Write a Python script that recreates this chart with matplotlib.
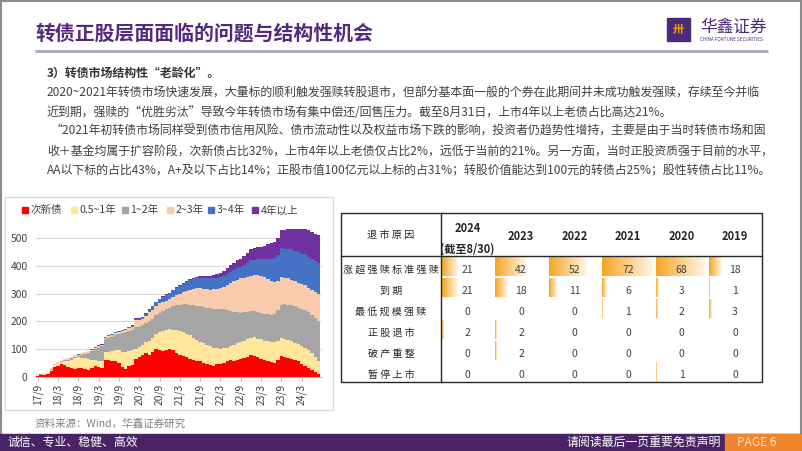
import matplotlib
matplotlib.use('Agg')
import matplotlib.pyplot as plt
from matplotlib.patches import Rectangle
import matplotlib.colors as mcolors
import numpy as np

plt.rcParams['font.family'] = ['Noto Sans CJK SC', 'DejaVu Sans']

# 左图：各上市年限转债只数（月度，17/9 ~ 24/8）
tick_labels = ['17/9', '18/3', '18/9', '19/3', '19/9', '20/3', '20/9',
               '21/3', '21/9', '22/3', '22/9', '23/3', '23/9', '24/3']
series_names = ['次新债', '0.5~1年', '1~2年', '2~3年', '3~4年', '4年以上']
series_colors = ['#FF0000', '#FFE699', '#A5A5A5', '#F8CBAD', '#4472C4', '#7030A0']

new_bonds = [3, 5, 7, 10, 20, 35, 40, 45, 42, 35, 30, 28, 32, 30, 28, 26, 30, 38,
             35, 30, 62, 60, 58, 55, 50, 35, 28, 38, 42, 65, 70, 78, 85, 80, 88, 100,
             98, 92, 95, 100, 98, 85, 80, 75, 70, 65, 60, 58, 55, 50, 45, 42, 40, 45,
             45, 50, 55, 60, 58, 62, 65, 68, 72, 80, 75, 70, 65, 60, 55, 52, 50, 60,
             75, 72, 68, 65, 62, 55, 45, 40, 30, 25, 18, 10]
y05_1 = [2, 2, 2, 2, 5, 7, 8, 7, 13, 20, 30, 40, 38, 38, 38, 39, 32, 22,
         23, 28, 26, 30, 34, 40, 45, 55, 60, 54, 53, 35, 38, 37, 40, 50, 52, 55,
         62, 73, 75, 72, 72, 83, 85, 85, 85, 85, 80, 74, 70, 70, 70, 68, 65, 57,
         55, 52, 50, 50, 57, 58, 60, 62, 63, 60, 67, 68, 70, 70, 73, 73, 75, 70,
         65, 66, 64, 63, 60, 63, 65, 62, 65, 60, 52, 45]
y1_2 = [2, 2, 2, 1, 3, 2, 2, 3, 5, 7, 8, 4, 6, 10, 16, 20, 30, 40,
        47, 52, 47, 50, 53, 55, 60, 68, 72, 73, 73, 78, 72, 70, 70, 70, 70, 67,
        70, 73, 75, 78, 85, 90, 95, 102, 107, 110, 118, 125, 130, 132, 135, 138, 141, 143,
        145, 141, 135, 128, 120, 112, 105, 102, 100, 98, 94, 94, 95, 98, 97, 97, 100, 110,
        120, 124, 128, 130, 133, 132, 135, 138, 137, 137, 142, 145]
y2_3 = [1, 1, 1, 1, 2, 2, 2, 3, 3, 4, 4, 5, 4, 6, 6, 7, 6, 5,
        5, 4, 5, 6, 7, 8, 7, 7, 8, 10, 12, 27, 25, 25, 25, 32, 32, 33,
        35, 32, 30, 30, 33, 37, 40, 43, 48, 55, 60, 63, 65, 66, 67, 67, 70, 73,
        75, 82, 92, 102, 110, 118, 125, 126, 127, 127, 130, 134, 135, 132, 127, 123, 117, 105,
        100, 96, 95, 92, 90, 90, 90, 90, 90, 90, 93, 100]
y3_4 = [0, 0, 0, 0, 0, 0, 0, 0, 0, 0, 0, 0, 1, 1, 1, 2, 2, 2,
        2, 2, 3, 3, 3, 3, 3, 3, 3, 3, 4, 5, 5, 6, 8, 10, 12, 14,
        15, 18, 20, 22, 24, 26, 28, 30, 32, 34, 35, 35, 35, 37, 38, 40, 40, 40,
        40, 40, 40, 40, 42, 42, 42, 45, 50, 55, 56, 58, 60, 65, 75, 82, 88, 95,
        105, 105, 108, 110, 110, 110, 110, 112, 112, 112, 112, 110]
y4_plus = [0, 0, 0, 0, 0, 0, 0, 0, 0, 0, 0, 0, 0, 0, 0, 0, 0, 0,
           1, 1, 1, 1, 1, 1, 1, 1, 1, 1, 1, 1, 1, 1, 1, 1, 1, 1,
           2, 2, 2, 2, 2, 2, 3, 3, 4, 4, 5, 6, 8, 9, 10, 10, 11, 12,
           15, 17, 20, 22, 25, 28, 30, 32, 35, 40, 42, 44, 45, 48, 52, 55, 58, 60,
           65, 68, 70, 75, 80, 85, 87, 92, 96, 98, 100, 102]

# 右表：转债退市原因统计
years = ['2024', '2023', '2022', '2021', '2020', '2019']
reasons = ['涨超强赎标准强赎', '到期', '最低规模强赎', '正股退市', '破产重整', '暂停上市']
call_redeem = [21, 42, 52, 72, 68, 18]
maturity = [21, 18, 11, 6, 3, 1]
min_size_redeem = [0, 0, 0, 1, 2, 3]
stock_delisted = [2, 2, 0, 0, 0, 0]
restructuring = [0, 2, 0, 0, 0, 0]
suspended = [0, 0, 0, 0, 1, 0]

body_lines = [
    '2020~2021年转债市场快速发展，大量标的顺利触发强赎转股退市，但部分基本面一般的个券在此期间并未成功触发强赎，存续至今并临',
    '近到期，强赎的“优胜劣汰”导致今年转债市场有集中偿还/回售压力。截至8月31日，上市4年以上老债占比高达21%。',
    '“2021年初转债市场同样受到债市信用风险、债市流动性以及权益市场下跌的影响，投资者仍趋势性增持，主要是由于当时转债市场和固',
    '收＋基金均属于扩容阶段，次新债占比32%，上市4年以上老债仅占比2%，远低于当前的21%。另一方面，当时正股资质强于目前的水平，',
    'AA以下标的占比43%，A+及以下占比14%；正股市值100亿元以上标的占31%；转股价值能达到100元的转债占25%；股性转债占比11%。',
]

W, H = 802, 451
fig = plt.figure(figsize=(W / 100, H / 100), dpi=100)
bg = fig.add_axes([0, 0, 1, 1])
bg.set_xlim(0, W)
bg.set_ylim(H, 0)
bg.axis('off')

purple = '#55287F'
# 页面框、标题、logo
bg.add_patch(Rectangle((0.8, 0.8), W - 1.6, H - 1.6, fill=False, ec='#8C8C8C', lw=1.5))
bg.text(35, 33, '转债正股层面面临的问题与结构性机会', fontsize=14.3, weight='bold',
        color=purple, va='center', ha='left')
bg.plot([35, 768], [50.5, 50.5], color='#A6A6B8', lw=2, solid_capstyle='butt')
bg.add_patch(Rectangle((667, 18), 23, 23, color='#4B2A7A'))
bg.text(678.5, 29.5, '卅', fontsize=8, color='#F39800', weight='bold', ha='center', va='center')
bg.text(700, 27, '华鑫证券', fontsize=12, color='#4B2A7A', ha='left', va='center')
bg.text(700, 39.5, 'CHINA FORTUNE SECURITIES', fontsize=3.3, color='#4B2A7A', ha='left', va='center')

# 正文
bg.text(47, 73, '3）转债市场结构性“老龄化”。', fontsize=8.6, weight='bold', color='#333333', va='center')
line_x = [47, 47, 50, 47, 47]
line_y = [93, 112, 131.5, 151, 170]
for s, x, y in zip(body_lines, line_x, line_y):
    bg.text(x, y, s, fontsize=8.6, color='#404040', va='center', ha='left')

# 左图框与图例
bg.add_patch(Rectangle((5, 197), 328, 213, fill=False, ec='#D9D9D9', lw=1))
leg_x = [22, 71, 122, 167, 208, 252]
for name, c, x in zip(series_names, series_colors, leg_x):
    bg.add_patch(Rectangle((x, 207), 5.5, 5.5, color=c))
    bg.text(x + 8.5, 210, name, fontsize=7.6, color='#404040', va='center', ha='left')
bg.text(35, 423, '资料来源：Wind，华鑫证券研究', fontsize=7.6, color='#7F7F7F', va='center')

# 页脚
bg.add_patch(Rectangle((0, 433.5), W, H - 433.5, color='#4A2366'))
bg.add_patch(Rectangle((725, 433.5), W - 725, H - 433.5, color='#F0852D'))
bg.text(7, 442, '诚信、专业、稳健、高效', fontsize=8.6, color='white', va='center')
bg.text(721, 442, '请阅读最后一页重要免责声明', fontsize=8.6, color='white', va='center', ha='right')
bg.text(737, 442, 'PAGE 6', fontsize=8.6, color='#FBE3D0', va='center')

# 右表
tx0, tx1, ty0, ty1 = 341, 761.7, 213.3, 381.7
col_split, head_bot = 441, 255.7
cw = (tx1 - col_split) / len(years)
rh = (ty1 - head_bot) / len(reasons)
bg.add_patch(Rectangle((tx0, ty0), tx1 - tx0, ty1 - ty0, fill=False, ec='#262626', lw=1))
bg.plot([col_split, col_split], [ty0, ty1], color='#262626', lw=1)
bg.plot([tx0, tx1], [head_bot, head_bot], color='#262626', lw=1)
bg.text((tx0 + col_split) / 2, 235, '退 市 原 因', fontsize=7.3, color='#262626', ha='center', va='center')
for j, yr in enumerate(years):
    cx = col_split + cw * (j + 0.5)
    if j == 0:
        bg.text(cx, 228, yr, fontsize=8, weight='bold', color='#262626', ha='center', va='center')
        bg.text(cx, 249.5, '(截至8/30)', fontsize=8, weight='bold', color='#262626', ha='center', va='center')
    else:
        bg.text(cx, 236, yr, fontsize=8, weight='bold', color='#262626', ha='center', va='center')

table_rows = [call_redeem, maturity, min_size_redeem, stock_delisted, restructuring, suspended]
vmax = max(max(r) for r in table_rows)
c0 = np.array(mcolors.to_rgb('#F5A623'))
c1 = np.array(mcolors.to_rgb('#FFF6E8'))
grad = np.linspace(0, 1, 64)[None, :, None]
grad_img = c0 * (1 - grad) + c1 * grad
for i, (reason, row) in enumerate(zip(reasons, table_rows)):
    top = head_bot + rh * i
    bg.text((tx0 + col_split) / 2, top + rh / 2 + 3.5, ' '.join(reason), fontsize=7.2,
            color='#262626', ha='center', va='center')
    for j, v in enumerate(row):
        left = col_split + cw * j
        if v > 0:
            bw = v / vmax * (cw - 2)
            bg.imshow(grad_img, extent=[left + 1, left + 1 + bw, top + rh - 1, top + 1],
                      aspect='auto', interpolation='bilinear', zorder=1)
        bg.text(left + cw / 2, top + rh / 2 + 3.5, str(v), fontsize=7.5, color='#404040',
                ha='center', va='center', zorder=3)
bg.set_xlim(0, W)
bg.set_ylim(H, 0)

# 左图：堆积柱
ax = fig.add_axes([36 / W, 1 - 376.7 / H, (322 - 36) / W, (376.7 - 221.7) / H])
ax.patch.set_alpha(0)
x = np.arange(len(new_bonds))
bottom = np.zeros(len(new_bonds))
for vals, c in zip([new_bonds, y05_1, y1_2, y2_3, y3_4, y4_plus], series_colors):
    vals = np.array(vals, dtype=float)
    ax.bar(x, vals, bottom=bottom, width=1.0, color=c, linewidth=0, zorder=2)
    bottom += vals
ax.set_xlim(-0.5, 84)
ax.set_ylim(0, 560)
ax.set_yticks(range(0, 501, 100))
ax.yaxis.grid(True, color='#D9D9D9', lw=0.8, zorder=0)
ax.set_axisbelow(True)
ax.set_xticks(np.arange(0, 84, 6))
ax.set_xticklabels(tick_labels, rotation=90)
ax.tick_params(axis='y', length=0, pad=6, labelsize=7.4, labelcolor='#404040')
ax.tick_params(axis='x', length=3, color='#BFBFBF', pad=2, labelsize=7.4, labelcolor='#404040')
for sp in ['top', 'right', 'left']:
    ax.spines[sp].set_visible(False)
ax.spines['bottom'].set_color('#BFBFBF')

fig.savefig('out.png', dpi=100)
